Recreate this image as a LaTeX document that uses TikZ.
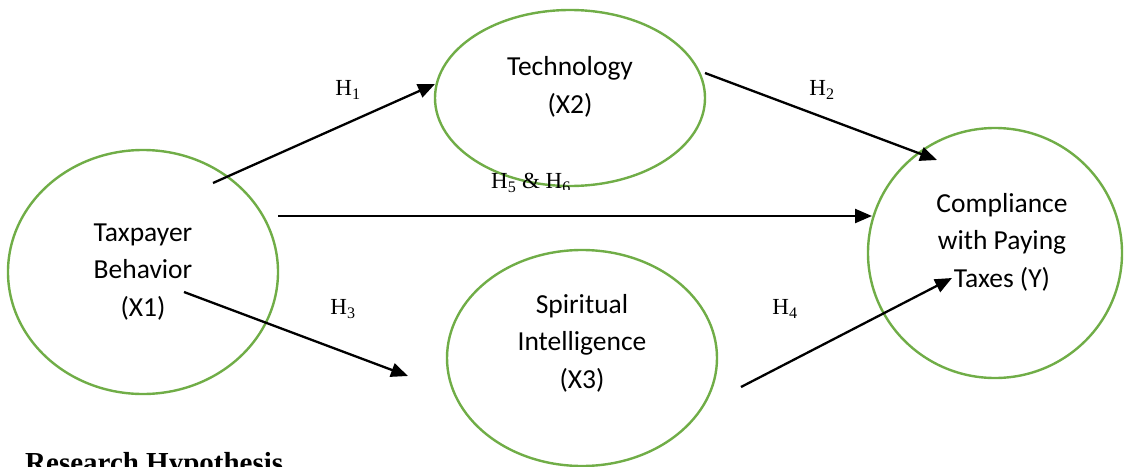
\documentclass[tikz,border=0pt]{standalone}
\usepackage{fontspec}
\newfontfamily\carlito{Carlito}
\newfontfamily\lserif{Liberation Serif}
\usetikzlibrary{arrows.meta,shapes.geometric}
\definecolor{tgreen}{HTML}{70AD47}
\newcommand{\hsub}[1]{H\textsubscript{#1}}
\begin{document}
\begin{tikzpicture}[x=1pt,y=-1pt,
  ell/.style={ellipse, draw=tgreen, line width=2.4pt, inner sep=0pt},
  lbl/.style={font=\carlito\fontsize{27.5}{37.5}\selectfont, align=center, inner sep=0pt},
  hyp/.style={font=\lserif\fontsize{23}{27}\selectfont, inner sep=0pt},
  arr/.style={line width=2.3pt, -{Triangle[length=17pt,width=14pt]}}]
\useasboundingbox (0,0) rectangle (1126,466);
% ellipses
\node[ell, minimum width=270pt, minimum height=244pt] (tp) at (143,272) {};
\node[ell, minimum width=270pt, minimum height=176pt] (tech) at (570,98) {};
\node[ell, minimum width=270pt, minimum height=216pt] (sp) at (582,358) {};
\node[ell, minimum width=254pt, minimum height=250pt] (cp) at (995,253) {};
% texts
\node[lbl] (tpt) at (tp.center) {Taxpayer\\Behavior\\(X1)};
\node[lbl] (techt) at (570,87) {Technology\\(X2)};
\node[lbl] (spt) at (582,343) {Spiritual\\Intelligence\\(X3)};
\node[lbl] (cpt) at (1002,242) {Compliance\\with Paying\\Taxes (Y)};
% hypothesis labels
\node[hyp] (l1) at (348,90) {\hsub{1}};
\node[hyp] (l2) at (822,90) {\hsub{2}};
\node[hyp] (l3) at (343,309) {\hsub{3}};
\node[hyp] (l4) at (785,309) {\hsub{4}};
\begin{scope}
  \clip (400,100) rectangle (519,230) (519,100) rectangle (700,189);
  \node[hyp] (l56) at (531,183) {\hsub{5} \& \hsub{6}};
\end{scope}
% connector end points
\coordinate (a1) at (213,183); \coordinate (b1) at (435,84);
\coordinate (a2) at (705,73);  \coordinate (b2) at (937,160);
\coordinate (a5) at (278,216); \coordinate (b5) at (872,216);
\coordinate (a3) at (184,292); \coordinate (b3) at (408,376);
\coordinate (a4) at (741,387); \coordinate (b4) at (952,278);
\draw[arr] (a1) -- (b1);
\draw[arr] (a2) -- (b2);
\draw[arr] (a5) -- (b5);
\draw[arr] (a3) -- (b3);
\draw[arr] (a4) -- (b4);
% caption
\node[font=\lserif\bfseries\fontsize{29}{33}\selectfont, anchor=base west, inner sep=0pt] (cap) at (25,472) {Research Hypothesis};
\end{tikzpicture}
\end{document}
